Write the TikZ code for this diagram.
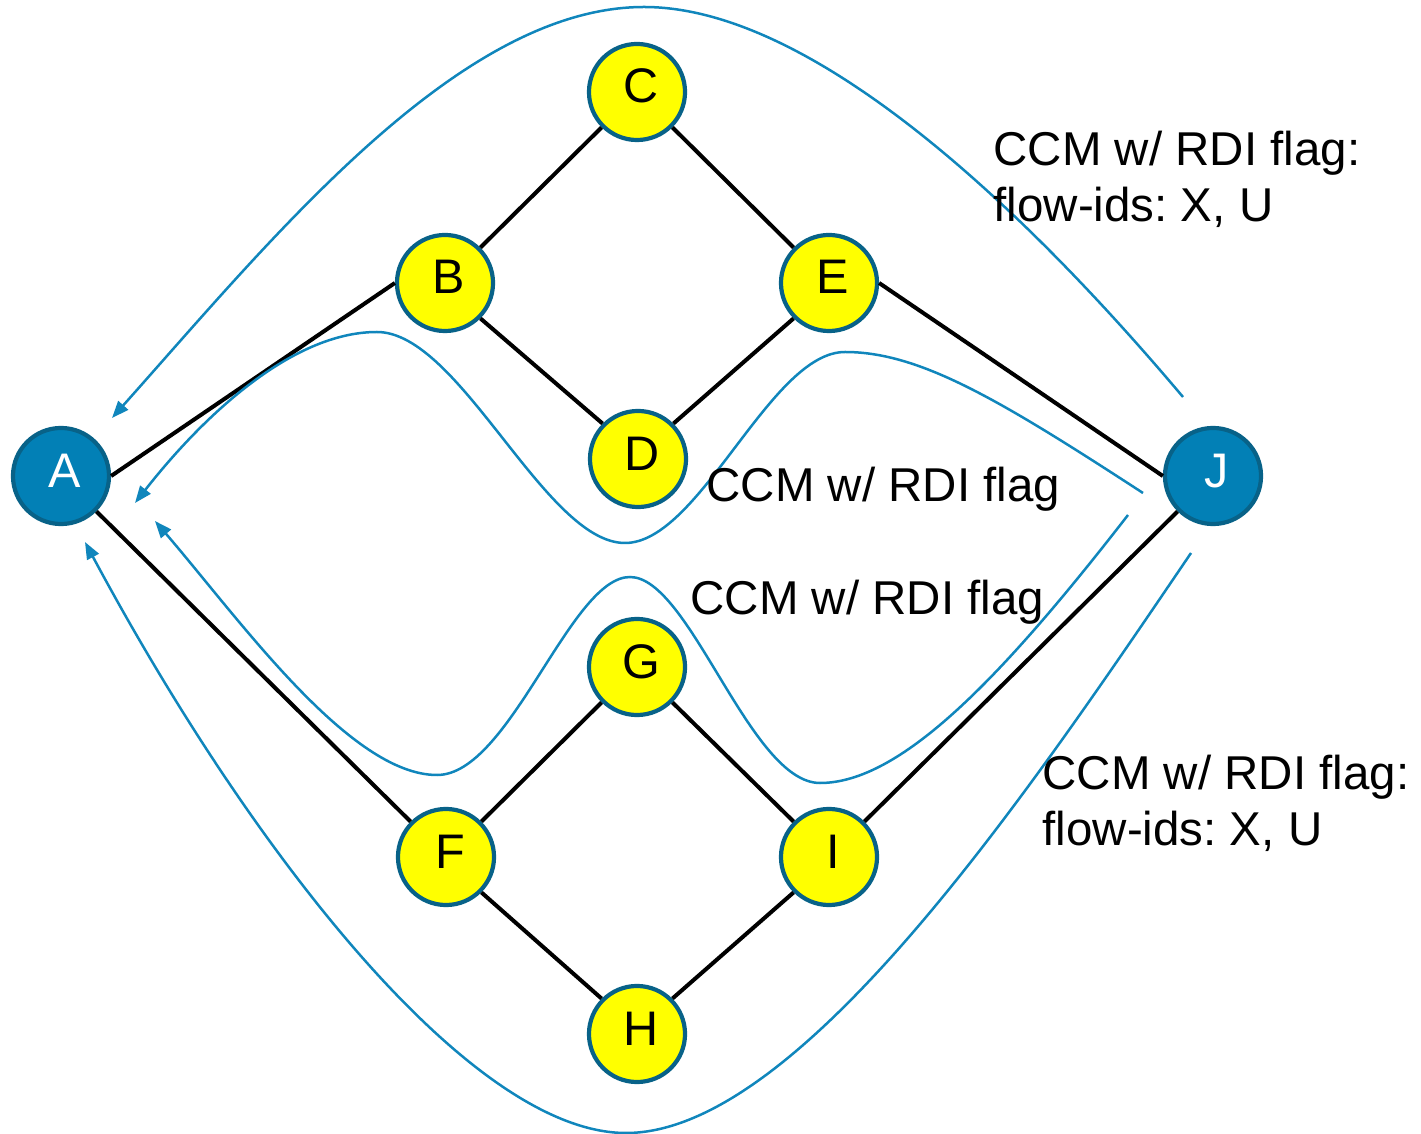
\documentclass[tikz,border=0pt]{standalone}
\usepackage{fontspec}
\setmainfont{Liberation Sans}
\usetikzlibrary{arrows.meta}

\definecolor{nodeyellow}{RGB}{255,255,0}
\definecolor{nodeblue}{RGB}{2,128,182}
\definecolor{nodeedge}{RGB}{8,98,136}
\definecolor{flowblue}{RGB}{16,134,188}

\begin{document}
\begin{tikzpicture}[
  x=0.01cm, y=-0.01cm,
  yellownode/.style={circle, draw=nodeedge, line width=0.042cm, fill=nodeyellow,
    minimum size=0.96cm, inner sep=0pt, text height=0.34cm, text depth=0.12cm,
    execute at begin node=\hspace*{0.08cm},
    font=\fontsize{13.8}{16.2}\selectfont},
  bluenode/.style={yellownode, fill=nodeblue, text=white},
  link/.style={line width=0.04cm, black},
  flow/.style={line width=0.025cm, flowblue,
    -{Triangle[length=0.17cm, width=0.13cm]}},
  note/.style={font=\fontsize{13.5}{16.2}\selectfont\frenchspacing,
    align=left, inner sep=0pt}
]
\useasboundingbox (0,0) rectangle (1421,1134);

% stations
\node[bluenode]   (A) at (61,476)   {A};
\node[bluenode]   (J) at (1213,476) {J};
\node[yellownode] (C) at (637,92)   {C};
\node[yellownode] (B) at (445,283)  {B};
\node[yellownode] (E) at (829,283)  {E};
\node[yellownode] (D) at (638,459)  {D};
\node[yellownode] (G) at (637,667)  {G};
\node[yellownode] (F) at (446,857)  {F};
\node[yellownode] (I) at (829,857)  {I};
\node[yellownode] (H) at (637,1034) {H};

% links
\draw[link] (A.east) -- (B.west);
\draw[link] (A.-45) -- (F.135);
\draw[link] (B.45) -- (C.-135);
\draw[link] (C.-45) -- (E.135);
\draw[link] (B.-45) -- (D.135);
\draw[link] (D.45) -- (E.-135);
\draw[link] (E.east) -- (J.west);
\draw[link] (F.45) -- (G.-135);
\draw[link] (G.-45) -- (I.135);
\draw[link] (F.-45) -- (H.135);
\draw[link] (H.45) -- (I.-135);
\draw[link] (I.45) -- (J.-135);

% ends of the CCM flows
\coordinate (s1) at (1183,397);
\coordinate (t1) at (112,418);
\coordinate (s2) at (1143,493);
\coordinate (t2) at (135,503);
\coordinate (s3) at (1128,515);
\coordinate (t3) at (155,521);
\coordinate (s4) at (1191,553);
\coordinate (t4) at (85,542);

% CCM flows from J back to A
\draw[flow] (s1) .. controls (1000,180) and (800,7) .. (644,7)
  .. controls (460,7) and (275,235) .. (t1);
\draw[flow] (s2) .. controls (1000,400) and (920,352) .. (845,352)
  .. controls (770,352) and (700,543) .. (625,543)
  .. controls (545,543) and (460,332) .. (377,332)
  .. controls (290,332) and (200,420) .. (t2);
\draw[flow] (s3) .. controls (1000,680) and (900,783) .. (820,783)
  .. controls (750,783) and (690,577) .. (630,577)
  .. controls (570,577) and (510,775) .. (437,775)
  .. controls (350,775) and (240,620) .. (t3);
\draw[flow] (s4) .. controls (1030,790) and (800,1133) .. (626,1133)
  .. controls (470,1133) and (250,850) .. (t4);

% labels (base anchor sits on the last line)
\node[note, anchor=base west] (n1) at (993,222) {CCM w/ RDI flag:\\flow-ids: X, U};
\node[note, anchor=base west] (n2) at (706,502) {CCM w/ RDI flag};
\node[note, anchor=base west] (n3) at (690,615) {CCM w/ RDI flag};
\node[note, anchor=base west] (n4) at (1042,846) {CCM w/ RDI flag:\\flow-ids: X, U};
\end{tikzpicture}
\end{document}
